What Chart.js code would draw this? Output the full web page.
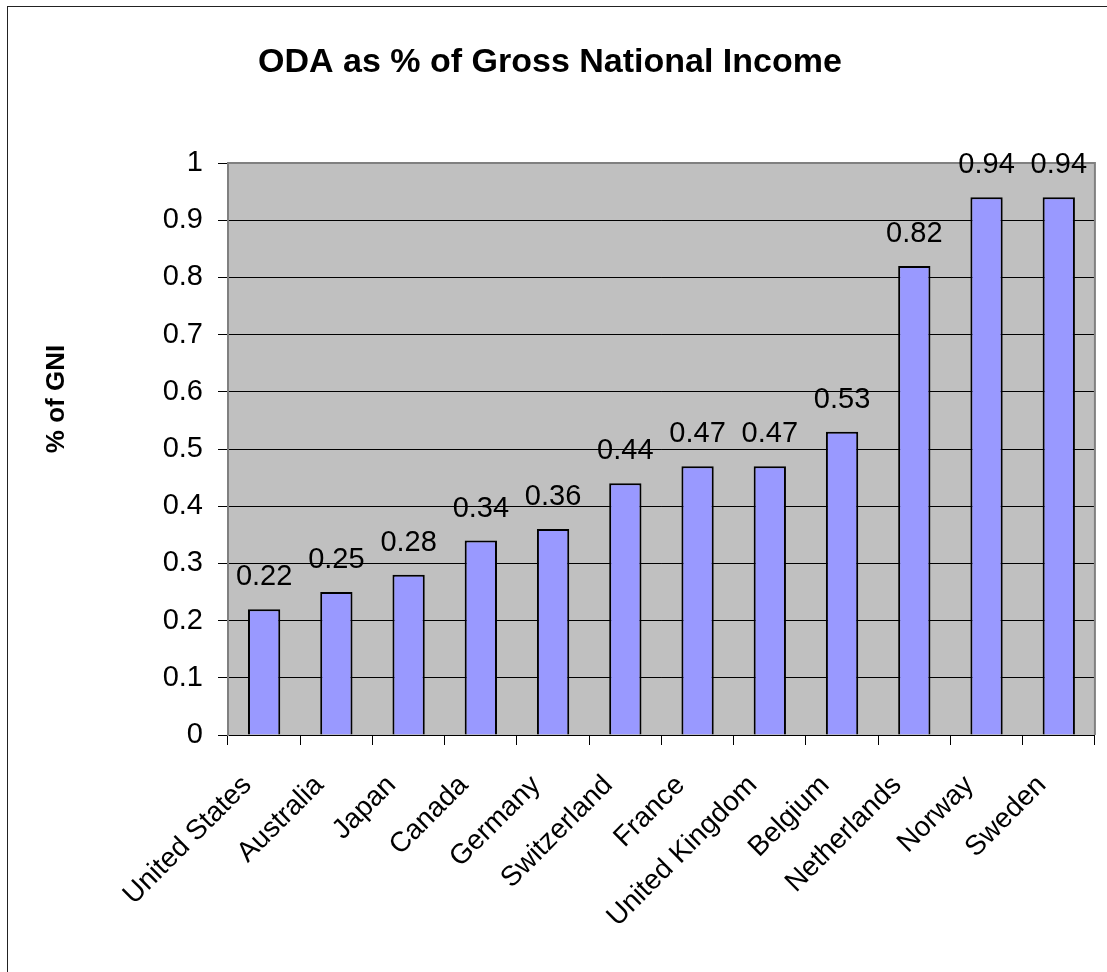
<!DOCTYPE html>
<html>
<head>
<meta charset="utf-8">
<script src="https://cdn.jsdelivr.net/npm/chart.js@4/dist/chart.umd.min.js"></script>
<style>
html,body{margin:0;padding:0;background:#fff;}
canvas{display:block;}
</style>
</head>
<body>
<canvas id="c" width="1107" height="972"></canvas>
<script>
const categories = ["United States","Australia","Japan","Canada","Germany","Switzerland","France","United Kingdom","Belgium","Netherlands","Norway","Sweden"];
const odaValues = [0.22,0.25,0.28,0.34,0.36,0.44,0.47,0.47,0.53,0.82,0.94,0.94];
const chartTitle = "ODA as % of Gross National Income";
const yAxisTitle = "% of GNI";

const FONT = "'Liberation Sans', Arial, sans-serif";

const decor = {
  id: 'decor',
  beforeDraw(chart) {
    const {ctx, chartArea: a} = chart;
    ctx.save();
    ctx.fillStyle = '#fff';
    ctx.fillRect(0, 0, chart.width, chart.height);
    ctx.fillStyle = '#C0C0C0';
    ctx.fillRect(a.left, a.top, a.right - a.left, a.bottom - a.top);
    ctx.restore();
  },
  beforeDatasetsDraw(chart) {
    const {ctx, chartArea: a} = chart;
    ctx.save();
    ctx.strokeStyle = '#808080';
    ctx.lineWidth = 2;
    ctx.beginPath();
    ctx.moveTo(a.left, a.bottom);
    ctx.lineTo(a.left, a.top);
    ctx.lineTo(a.right, a.top);
    ctx.lineTo(a.right, a.bottom);
    ctx.stroke();
    ctx.restore();
  },
  afterDatasetsDraw(chart) {
    const {ctx} = chart;
    const meta = chart.getDatasetMeta(0);
    ctx.save();
    ctx.fillStyle = '#000';
    ctx.font = '29px ' + FONT;
    ctx.textAlign = 'center';
    ctx.textBaseline = 'alphabetic';
    meta.data.forEach((bar, i) => {
      ctx.fillText(String(odaValues[i]), bar.x, bar.y - 24);
    });
    ctx.restore();
  },
  afterDraw(chart) {
    const {ctx} = chart;
    ctx.save();
    ctx.fillStyle = '#000';
    ctx.font = 'bold 34px ' + FONT;
    ctx.textAlign = 'center';
    ctx.textBaseline = 'alphabetic';
    ctx.fillText(chartTitle, 550, 72);
    ctx.translate(57, 399);
    ctx.rotate(-Math.PI / 2);
    ctx.font = 'bold 26px ' + FONT;
    ctx.textBaseline = 'middle';
    ctx.fillText(yAxisTitle, 0, 0);
    ctx.restore();
    ctx.save();
    ctx.strokeStyle = '#222';
    ctx.lineWidth = 1;
    ctx.strokeRect(7.5, 6.5, 1200, 1100);
    ctx.restore();
  }
};

new Chart(document.getElementById('c'), {
  type: 'bar',
  data: {
    labels: categories,
    datasets: [{
      data: odaValues,
      backgroundColor: '#9999FF',
      borderColor: '#000',
      borderWidth: 2,
      barPercentage: 0.447,
      categoryPercentage: 1.0
    }]
  },
  options: {
    responsive: false,
    animation: false,
    devicePixelRatio: 1,
    layout: { padding: { left: 0, top: 163, right: 11, bottom: 0 } },
    plugins: { legend: { display: false }, title: { display: false }, tooltip: { enabled: false } },
    scales: {
      x: {
        offset: true,
        grid: { offset: true, drawOnChartArea: false, drawTicks: true, tickLength: 10, tickColor: '#000', color: '#000' },
        border: { display: true, color: '#000', width: 1 },
        ticks: { color: '#000', font: { family: FONT, size: 28 }, maxRotation: 45, minRotation: 45, padding: 24, labelOffset: -17, autoSkip: false },
        afterFit(s) { s.height = 972 - 735; }
      },
      y: {
        min: 0, max: 1,
        grid: {
          color: (c) => (c.tick && c.tick.value === 1) ? '#808080' : '#000',
          tickColor: '#000',
          lineWidth: 1,
          tickLength: 10
        },
        border: { display: true, color: '#808080', width: 2 },
        ticks: {
          stepSize: 0.1, color: '#000', padding: 15,
          font: { family: FONT, size: 29 },
          callback: (v) => String(+v.toFixed(1))
        },
        afterFit(s) { s.width = 228; }
      }
    }
  },
  plugins: [decor]
});
</script>
</body>
</html>
